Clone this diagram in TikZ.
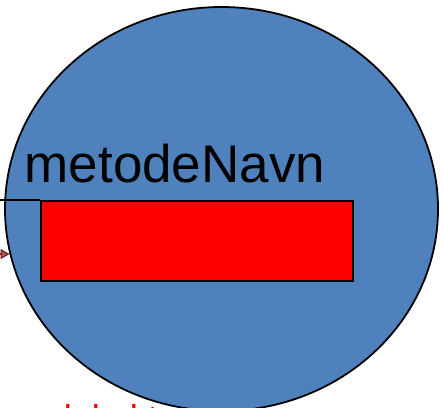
\documentclass[tikz,border=0pt]{standalone}
\usepackage{fontspec}
\setmainfont{Liberation Sans}
\usetikzlibrary{shapes.geometric,arrows.meta}
\definecolor{oblue}{HTML}{4F81BD}
\definecolor{arrred}{HTML}{C0504D}
\tikzset{
  blob/.style={ellipse, draw=black, fill=oblue, line width=1.8pt, inner sep=0pt,
    minimum width=433pt, minimum height=404pt},
  redbox/.style={rectangle, draw=black, fill=red, line width=1.8pt, inner sep=0pt,
    minimum width=312pt, minimum height=80pt},
  conn/.style={draw=black, line width=1.8pt},
  callarrow/.style={draw=arrred!50!black, line width=1.2pt,
    -{Triangle[length=9pt,width=10pt,fill=arrred]}},
}
\begin{document}
\begin{tikzpicture}[x=1pt,y=-1pt]
\useasboundingbox (0,0) rectangle (444,407);
\clip (0,0) rectangle (444,407);
% red text partly hidden behind the ellipse
\node[anchor=base west, inner sep=0pt, text=red, font=\fontsize{36}{40}\selectfont] (lt) at (63.6,430) {lokal t};
\node[blob] (e) at (221.5,209) {};
\node[redbox, anchor=north west] (r) at (40,200) {};
\node[anchor=base west, inner sep=0pt, font=\fontsize{53}{60}\selectfont] (mn) at (24.5,182) {metodeNavn};
\coordinate (l0) at (0,200);
\draw[conn] (l0) -- (r.north west);
\coordinate (a1) at (e.192);
\coordinate (a0) at ([xshift=-30pt]a1);
\draw[callarrow] (a0) -- (a1);
\end{tikzpicture}
\end{document}
